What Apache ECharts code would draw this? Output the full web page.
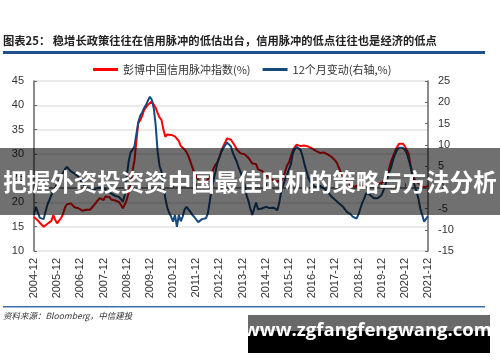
<!DOCTYPE html>
<html><head><meta charset="utf-8">
<script src="https://cdn.jsdelivr.net/npm/echarts@6/dist/echarts.min.js"></script>
<style>html,body{margin:0;padding:0;background:#fff}#c{width:500px;height:362px}</style>
</head><body><div id="c"></div>
<script>
// Monthly from 2004-12 to 2021-12
var startYear = 2004, startMonth = 12, nMonths = 205;
var months = [];
for (var i = 0; i < nMonths; i++) {
  var mm = startMonth - 1 + i;
  var y = startYear + Math.floor(mm / 12), m = (mm % 12) + 1;
  months.push(y + '-' + (m < 10 ? '0' + m : m));
}
var seriesNames = ['彭博中国信用脉冲指数(%)', '12个月变动(右轴,%)'];
var creditImpulse = [
17.0,16.6,16.3,15.8,15.4,15.0,15.2,15.6,15.8,16.2,17.4,16.4,
15.7,15.9,16.8,17.6,18.9,19.6,19.4,19.8,19.5,19.0,18.6,18.8,
18.6,18.3,18.7,18.5,18.3,18.5,18.8,19.4,19.8,20.4,20.9,20.6,
20.5,21.2,21.5,21.1,20.6,20.8,20.4,20.5,20.1,19.5,18.8,19.6,
20.5,22.0,23.8,26.5,28.6,32.5,36.4,36.9,37.8,39.0,39.6,40.1,
40.5,40.8,40.5,39.5,38.4,37.5,37.0,35.0,33.5,34.0,34.3,33.9,
34.0,33.6,33.8,32.6,31.6,31.2,30.9,30.3,29.5,28.4,27.2,26.1,
25.4,24.6,24.3,24.2,24.4,24.3,24.7,25.2,26.0,27.0,27.8,28.3,
29.4,30.6,31.6,32.4,33.2,33.5,32.9,32.3,31.7,30.9,30.5,30.1,
29.8,29.9,29.6,29.2,29.0,28.0,27.6,27.9,26.8,26.9,26.5,26.1,
25.7,25.3,25.0,24.8,24.5,24.4,24.3,24.6,24.5,25.0,26.3,27.6,
28.2,29.5,30.6,31.4,31.9,31.8,31.6,31.9,31.7,31.9,31.5,31.3,
31.1,30.9,30.6,30.4,30.2,30.0,30.3,30.1,29.9,29.6,29.4,29.0,
28.6,28.0,27.0,26.0,25.4,24.9,24.4,24.0,23.6,23.5,23.2,23.2,
23.6,23.9,23.4,23.6,23.5,23.9,24.2,24.0,24.2,24.0,23.8,24.1,
24.0,24.3,24.8,25.6,27.2,28.6,29.6,30.6,31.4,32.1,32.2,32.1,
31.6,31.3,30.0,27.6,25.8,24.8,24.3,23.9,23.6,23.3,23.1,23.2,
23.4];
var change12m = [
-6.5,-4.6,-5.0,-7.2,-7.4,-7.5,-5.7,-4.0,-3.0,-1.8,-1.0,-0.2,
1.0,1.3,2.6,3.4,4.2,4.8,4.5,3.8,3.5,3.2,2.9,2.5,
1.8,0.9,0.4,0.1,-0.3,-0.6,-0.8,-0.7,-0.3,-0.5,-0.2,-0.4,
-0.2,-0.6,-0.9,-1.3,-1.5,-1.8,-2.0,-1.8,-2.3,-2.8,-3.4,-1.8,
2.5,6.0,8.2,8.8,9.6,12.5,15.3,16.8,17.6,18.6,19.4,20.4,
21.3,20.6,18.6,14.6,8.5,5.0,3.7,0.5,-2.6,-4.8,-6.0,-6.9,
-8.1,-6.5,-9.3,-6.5,-8.0,-6.9,-5.2,-4.6,-5.0,-5.8,-6.5,-7.0,
-7.4,-8.2,-7.8,-7.5,-7.6,-7.3,-6.2,-3.4,-0.2,1.8,3.7,5.8,
7.0,8.3,9.2,9.9,10.5,10.8,9.6,8.0,7.0,6.0,4.6,3.5,
2.0,0.8,-1.8,-3.2,-5.0,-6.5,-5.0,-3.6,-5.2,-5.4,-5.0,-4.8,
-4.6,-4.4,-4.9,-4.6,-4.8,-5.1,-5.4,-3.6,-1.0,0.4,1.8,2.9,
4.2,5.4,8.0,9.0,9.5,9.3,8.8,7.4,5.5,3.9,2.3,1.3,
0.8,0.5,-0.1,0.2,0.4,0.1,-0.2,-0.5,-1.0,-1.6,-2.2,-2.6,
-3.0,-3.4,-3.8,-4.1,-4.6,-5.2,-5.8,-6.1,-6.4,-6.9,-7.3,-7.4,
-6.4,-5.0,-3.6,-2.6,-1.4,-1.1,-1.8,-2.2,-2.6,-2.5,-2.6,-2.2,
-1.8,-0.7,0.6,2.1,3.6,4.8,6.6,7.8,8.8,9.3,9.6,9.3,
8.8,8.0,6.5,4.8,2.5,0.5,-1.0,-2.6,-5.0,-6.5,-8.1,-8.5,
-6.8];
var leftTicks = {min: 10, max: 45, interval: 5};
var rightTicks = {min: -15, max: 25, interval: 5};

var isDec = function (idx, val) { return /-12$/.test(val); };
var chart = echarts.init(document.getElementById('c'));
var axisCol = '#666';
chart.setOption({
  animation: false,
  textStyle: {fontFamily: 'Liberation Sans, Arial, sans-serif'},
  grid: {left: 34, right: 72, top: 81, bottom: 111, containLabel: false},
  legend: {
    top: 59, left: 88, itemWidth: 25, itemHeight: 3, itemGap: 12, icon: 'rect',
    textStyle: {fontSize: 11, color: '#333', fontFamily: 'Noto Sans CJK SC'},
    data: seriesNames
  },
  xAxis: {
    type: 'category', data: months, boundaryGap: false,
    axisLine: {lineStyle: {color: axisCol, width: 1.5}},
    axisTick: {inside: true, interval: isDec, length: 4, lineStyle: {color: axisCol}},
    axisLabel: {interval: isDec, rotate: 90, fontSize: 11, color: '#333', margin: 7},
    splitLine: {show: false}
  },
  yAxis: [{
    type: 'value', min: leftTicks.min, max: leftTicks.max, interval: leftTicks.interval,
    axisLine: {show: true, lineStyle: {color: axisCol, width: 1.5}},
    axisTick: {show: true, inside: true, length: 3, lineStyle: {color: axisCol}},
    axisLabel: {fontSize: 11, color: '#333', margin: 10},
    splitLine: {show: true, lineStyle: {color: '#e3e3e3', width: 1.5}}
  }, {
    type: 'value', min: rightTicks.min, max: rightTicks.max, interval: rightTicks.interval,
    axisLine: {show: true, lineStyle: {color: axisCol, width: 1.5}},
    axisTick: {show: true, inside: true, length: 3, lineStyle: {color: axisCol}},
    axisLabel: {fontSize: 11, color: '#333', margin: 10},
    splitLine: {show: false}
  }],
  series: [{
    name: seriesNames[0], type: 'line', data: creditImpulse, yAxisIndex: 0,
    showSymbol: false, symbol: 'none', lineStyle: {color: '#ff0000', width: 2}, itemStyle: {color: '#ff0000'}
  }, {
    name: seriesNames[1], type: 'line', data: change12m, yAxisIndex: 1,
    showSymbol: false, symbol: 'none', lineStyle: {color: '#174a7c', width: 2}, itemStyle: {color: '#174a7c'}
  }],
  graphic: [
    {type: 'text', left: 3, top: 35, z: 50, style: {text: '图表25： 稳增长政策往往在信用脉冲的低估出台，信用脉冲的低点往往也是经济的低点', fontSize: 11.3, fontWeight: 'bold', fill: '#222', fontFamily: 'Noto Sans CJK SC'}},
    {type: 'rect', z: 50, shape: {x: 3, y: 51, width: 482, height: 3}, style: {fill: '#1f4f8c'}},
    {type: 'rect', z: 50, shape: {x: 3, y: 306, width: 482, height: 1.5}, style: {fill: '#3a6ea8'}},
    {type: 'text', left: 3, top: 312, z: 50, style: {text: '资料来源：Bloomberg，中信建投', fontSize: 8.5, fontStyle: 'italic', fill: '#333', fontFamily: 'Noto Sans CJK SC'}},
    {type: 'rect', z: 100, shape: {x: 0, y: 148, width: 500, height: 67}, style: {fill: 'rgba(0,0,0,0.56)'}},
    {type: 'text', z: 101, x: 250, y: 182, style: {text: '把握外资投资资中国最佳时机的策略与方法分析', fontSize: 23.5, fontWeight: 'bold', fill: '#fff', fontFamily: 'Noto Sans CJK SC', textAlign: 'center', textVerticalAlign: 'middle'}},
    {type: 'rect', z: 100, shape: {x: 248, y: 315, width: 242, height: 16}, style: {fill: '#696969'}},
    {type: 'rect', z: 100, shape: {x: 248, y: 331, width: 242, height: 22}, style: {fill: '#000'}},
    {type: 'text', z: 101, x: 368, y: 331, style: {text: 'www.zgfangfengwang.com', fontSize: 18.5, fontWeight: 'bold', fill: '#fff', fontFamily: 'Open Sans', textAlign: 'center', textVerticalAlign: 'middle'}}
  ]
});
</script></body></html>
